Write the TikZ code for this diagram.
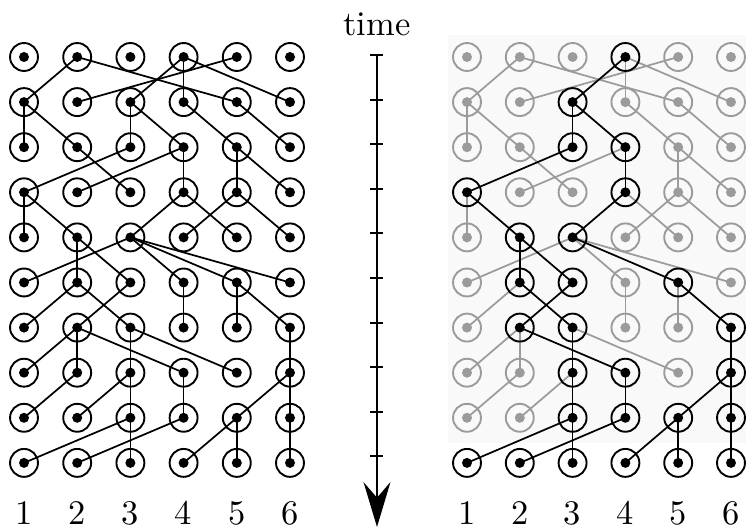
\documentclass[tikz,border=0pt]{standalone}
\usetikzlibrary{positioning,arrows.meta,backgrounds}
\definecolor{faded}{RGB}{155,155,155}
\definecolor{scanbg}{RGB}{249,249,249}

% column of the parent of each individual, generations 2..10
\newcommand{\parents}{2/{2,5,4,4,2,4}, 3/{1,1,3,3,4,5}, 4/{3,4,2,4,5,5},
  5/{1,1,4,5,4,5}, 6/{3,2,2,3,3,3}, 7/{2,3,2,4,5,5}, 8/{2,2,3,2,3,6},
  9/{2,3,3,4,6,6}, 10/{3,4,3,5,5,6}}
% ancestors of the last generation (generation/column)
\newcommand{\ancestry}{1/4, 2/3, 3/3, 3/4, 4/1, 4/4, 5/2, 5/3, 6/2, 6/3, 6/5,
  7/2, 7/3, 7/6, 8/3, 8/4, 8/6, 9/3, 9/4, 9/5, 9/6,
  10/1, 10/2, 10/3, 10/4, 10/5, 10/6}
\foreach \g/\c in \ancestry {\expandafter\gdef\csname anc\g-\c\endcsname{}}

\begin{document}
\begin{tikzpicture}[x=0.29pt, y=-0.29pt,
  pers/.style={circle, draw=#1, line width=0.55pt, minimum size=8.1pt, inner sep=0pt,
               path picture={\fill[#1] (path picture bounding box.center) circle (1.45pt);}},
  pers/.default=black,
  kin/.style={line width=0.5pt, #1},
  kin/.default=black,
  colnum/.style={inner sep=0pt, below=6.6pt of #1},
  axis/.style={line width=0.55pt},
]
\useasboundingbox (0,0) rectangle (746,529);

% individuals
\foreach \g in {1,...,10}
  \foreach \c in {1,...,6} {
    \node[pers] (L\g-\c) at (53.2*\c-29.2, 45.1*\g+11.9) {};
    \ifcsname anc\g-\c\endcsname
      \node[pers] (R\g-\c) at (52.8*\c+414.2, 45.1*\g+11.9) {};
    \else
      \node[pers=faded] (R\g-\c) at (52.8*\c+414.2, 45.1*\g+11.9) {};
    \fi
  }

% parent -> child lines
\begin{scope}[on background layer]
  \fill[scanbg] (448,35) rectangle (746,443);
  \foreach \g/\plist in \parents {
    \pgfmathtruncatemacro{\h}{\g-1}
    \foreach \p [count=\c] in \plist {
      \draw[kin] (L\h-\p.center) -- (L\g-\c.center);
      \ifcsname anc\g-\c\endcsname\else
        \draw[kin=faded] (R\h-\p.center) -- (R\g-\c.center);
      \fi
    }
  }
  \foreach \g/\plist in \parents {
    \pgfmathtruncatemacro{\h}{\g-1}
    \foreach \p [count=\c] in \plist {
      \ifcsname anc\g-\c\endcsname
        \draw[kin] (R\h-\p.center) -- (R\g-\c.center);
      \fi
    }
  }
\end{scope}

% time axis
\coordinate (tstart) at (377,55);
\coordinate (tend) at (377,527);
\draw[axis, -{Stealth[length=13pt, width=7.8pt, inset=4.5pt]}] (tstart) -- (tend);
\foreach \k in {0,...,9}
  \draw[axis] (370.5,55+44.6*\k) -- (383.5,55+44.6*\k);
\node (time) at (377,24) {time};

% column numbers
\foreach \c in {1,...,6} {
  \node[colnum=L10-\c] (Lnum\c) {\c};
  \node[colnum=R10-\c] (Rnum\c) {\c};
}
\end{tikzpicture}
\end{document}
